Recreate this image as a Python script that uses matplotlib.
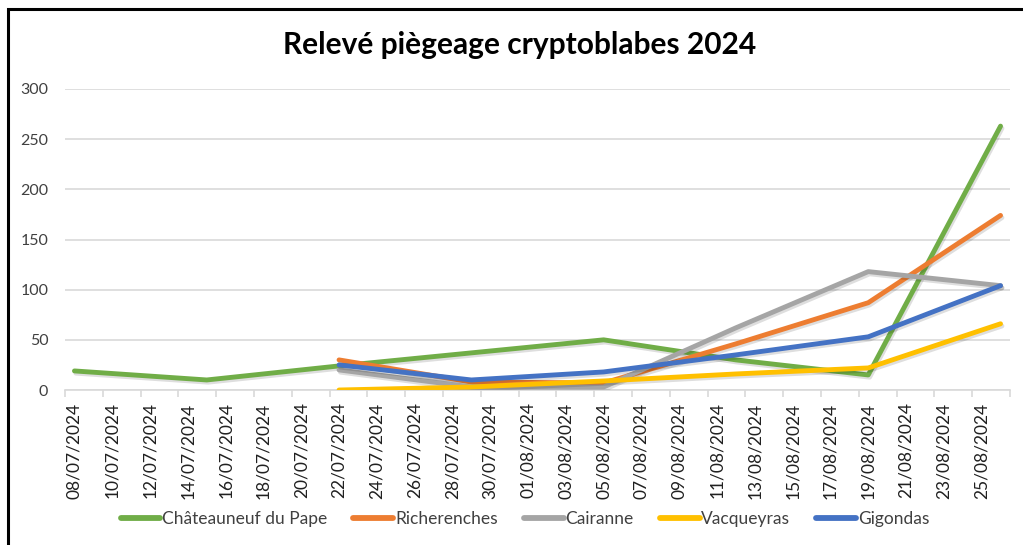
import matplotlib
matplotlib.use("Agg")
import matplotlib.pyplot as plt
import matplotlib.patheffects as pe
from matplotlib.patches import Rectangle
import pandas as pd
import numpy as np

title = "Relevé piègeage cryptoblabes 2024"
dates = ["08/07/2024", "15/07/2024", "22/07/2024", "29/07/2024",
         "05/08/2024", "12/08/2024", "19/08/2024", "26/08/2024"]
chateauneuf = [19, 10, 24, 37, 50, 30, 15, 263]
richerenches = [None, None, 30, 8, 7, 46, 87, 174]
cairanne = [None, None, 20, 3, 3, 62, 118, 104]
vacqueyras = [None, None, 0, 3, 9, 16, 22, 66]
gigondas = [None, None, 25, 10, 18, 35, 53, 104]
series_names = ["Châteauneuf du Pape", "Richerenches", "Cairanne", "Vacqueyras", "Gigondas"]
colors = ["#70AD47", "#ED7D31", "#A5A5A5", "#FFC000", "#4472C4"]
axis_start, axis_end = "08/07/2024", "26/08/2024"
yticks = [0, 50, 100, 150, 200, 250, 300]

plt.rcParams['font.family'] = ['Lato', 'DejaVu Sans']

d = pd.to_datetime(dates, format="%d/%m/%Y")
start = pd.to_datetime(axis_start, format="%d/%m/%Y")
end = pd.to_datetime(axis_end, format="%d/%m/%Y")
x = np.array((d - start).days, dtype=float)
ndays = (end - start).days + 1

fig = plt.figure(figsize=(10.23, 5.45), dpi=100)
ax = fig.add_axes([65/1023, 1-390/545, (1010-65)/1023, (390-89)/545])

shadow = [pe.SimpleLineShadow(offset=(1.0, -1.6), shadow_color='k', alpha=0.13), pe.Normal()]
all_series = [chateauneuf, richerenches, cairanne, vacqueyras, gigondas]
for name, vals, c in zip(series_names, all_series, colors):
    v = np.array([np.nan if y is None else y for y in vals], dtype=float)
    m = ~np.isnan(v)
    ax.plot(x[m], v[m], color=c, lw=3.5, label=name, solid_capstyle='round',
            solid_joinstyle='round', path_effects=shadow, zorder=3)

ax.set_xlim(-0.5, ndays - 0.5)
ax.set_ylim(0, 300)
ax.set_yticks(yticks)
ax.set_yticklabels([str(t) for t in yticks], fontsize=11.5, color='#404040')
ax.grid(axis='y', color='#D9D9D9', lw=1.2)
ax.set_axisbelow(True)

label_days = np.arange(0, ndays, 2)
labels = [(start + pd.Timedelta(days=int(k))).strftime("%d/%m/%Y") for k in label_days]
ax.set_xticks(label_days)
ax.set_xticklabels(labels, rotation=90, fontsize=12.5, color='#202020')
ax.tick_params(axis='x', which='major', length=0, pad=9)
ax.set_xticks(np.arange(-0.5, ndays, 2), minor=True)
ax.tick_params(axis='x', which='minor', length=5, color='#D9D9D9', width=1.2)
ax.tick_params(axis='y', length=0, pad=12)

for s in ['top', 'right', 'left']:
    ax.spines[s].set_visible(False)
ax.spines['bottom'].set_color('#D9D9D9')
ax.spines['bottom'].set_linewidth(1.2)

fig.text(520/1023, 1-45/545, title, ha='center', va='center', fontsize=21.5,
         fontweight='bold', color='black')

leg = fig.legend(loc='center', bbox_to_anchor=(525/1023, 1-519/545), ncol=5, frameon=False,
                 fontsize=12.5, handlelength=2.3, handletextpad=0.1, columnspacing=1.5)
for h in leg.get_lines():
    h.set_linewidth(4.2)
    h.set_path_effects([])
for t in leg.get_texts():
    t.set_color('#404040')

fig.patches.append(Rectangle((8/1023, -0.1), 1.2, (1-9/545) + 0.1, transform=fig.transFigure,
                             fill=False, edgecolor='black', lw=2.2, zorder=10))

fig.savefig("out.png", dpi=100, facecolor='white')
